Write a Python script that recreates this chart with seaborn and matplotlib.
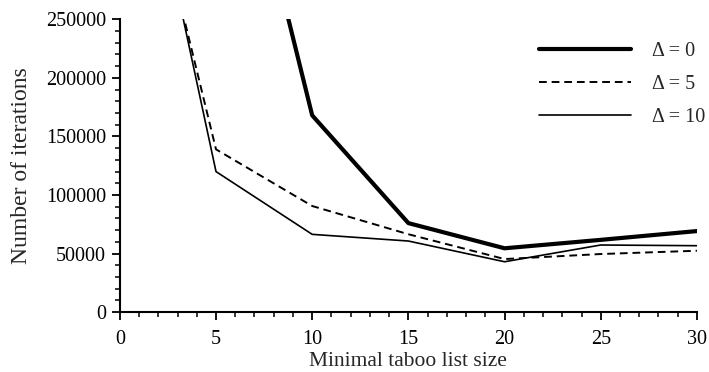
import matplotlib
matplotlib.use("Agg")
import matplotlib.pyplot as plt
import seaborn as sns
import pandas as pd
from matplotlib.ticker import MultipleLocator

sns.set_theme(style="ticks")
plt.rcParams['font.family'] = ['Liberation Serif', 'DejaVu Serif']

x_d0 = [5, 10, 15, 20, 25, 30]
y_d0 = [500000, 168000, 76000, 54500, 61700, 69200]
x_d5 = [2, 5, 10, 15, 20, 25, 30]
y_d5 = [341000, 139000, 90600, 66500, 45300, 49600, 52400]
x_d10 = [2, 5, 10, 15, 20, 25, 30]
y_d10 = [349500, 120000, 66400, 60700, 43000, 57300, 56700]
labels = ["Δ = 0", "Δ = 5", "Δ = 10"]

fig = plt.figure(figsize=(7.09, 3.72), dpi=100)
ax = fig.add_axes([0.169, 0.161, 0.814, 0.787])

sns.lineplot(x=x_d0, y=y_d0, ax=ax, color="black", linewidth=3.0, label=labels[0])
sns.lineplot(x=x_d5, y=y_d5, ax=ax, color="black", linewidth=1.4, label=labels[1])
ax.lines[-1].set_dashes([4, 2.5])
sns.lineplot(x=x_d10, y=y_d10, ax=ax, color="black", linewidth=1.2, label=labels[2])

ax.set_xlim(0, 30)
ax.set_ylim(0, 250000)
ax.xaxis.set_major_locator(MultipleLocator(5))
ax.xaxis.set_minor_locator(MultipleLocator(1))
ax.yaxis.set_major_locator(MultipleLocator(50000))
ax.yaxis.set_minor_locator(MultipleLocator(10000))
ax.tick_params(axis='both', which='major', direction='out', length=6, width=1.3,
               labelsize=14.5, colors='black')
ax.tick_params(axis='x', which='major', pad=7)
ax.tick_params(axis='y', which='major', pad=4)
ax.tick_params(axis='both', which='minor', direction='out', length=3.5, width=1.1, colors='black')
for s in ["top", "right"]:
    ax.spines[s].set_visible(False)
for s in ["left", "bottom"]:
    ax.spines[s].set_linewidth(1.5)
    ax.spines[s].set_color("black")

ax.set_xlabel("Minimal taboo list size", fontsize=15.5, labelpad=2)
ax.set_ylabel("Number of iterations", fontsize=17, labelpad=10)

leg = ax.legend(loc="upper right", bbox_to_anchor=(1.045, 0.985), frameon=False, fontsize=14.5,
                handlelength=4.6, handletextpad=1.0, labelspacing=0.7)
leg_lines = leg.get_lines()
leg_lines[1].set_dashes([4, 2.5])

fig.savefig("out.png", dpi=100)
